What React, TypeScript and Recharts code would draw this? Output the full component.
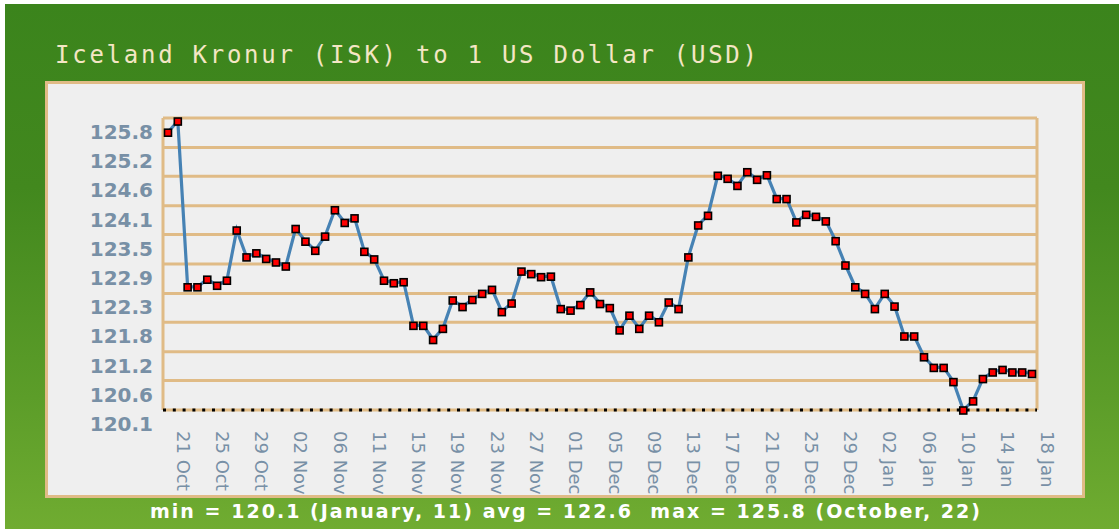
import React from 'react';
import {
  LineChart,
  Line,
  XAxis,
  YAxis,
  CartesianGrid,
  ReferenceLine,
} from 'recharts';

// ISK per 1 USD, one point per day (21 Oct .. 18 Jan, one November day missing)
const dates = [
  '21 Oct', '22 Oct', '23 Oct', '24 Oct', '25 Oct', '26 Oct', '27 Oct', '28 Oct', '29 Oct', '30 Oct', '31 Oct',
  '01 Nov', '02 Nov', '03 Nov', '04 Nov', '05 Nov', '06 Nov', '07 Nov', '09 Nov', '10 Nov',
  '11 Nov', '12 Nov', '13 Nov', '14 Nov', '15 Nov', '16 Nov', '17 Nov', '18 Nov', '19 Nov', '20 Nov',
  '21 Nov', '22 Nov', '23 Nov', '24 Nov', '25 Nov', '26 Nov', '27 Nov', '28 Nov', '29 Nov', '30 Nov',
  '01 Dec', '02 Dec', '03 Dec', '04 Dec', '05 Dec', '06 Dec', '07 Dec', '08 Dec', '09 Dec', '10 Dec',
  '11 Dec', '12 Dec', '13 Dec', '14 Dec', '15 Dec', '16 Dec', '17 Dec', '18 Dec', '19 Dec', '20 Dec',
  '21 Dec', '22 Dec', '23 Dec', '24 Dec', '25 Dec', '26 Dec', '27 Dec', '28 Dec', '29 Dec', '30 Dec', '31 Dec',
  '01 Jan', '02 Jan', '03 Jan', '04 Jan', '05 Jan', '06 Jan', '07 Jan', '08 Jan', '09 Jan', '10 Jan',
  '11 Jan', '12 Jan', '13 Jan', '14 Jan', '15 Jan', '16 Jan', '17 Jan', '18 Jan',
];

const rates = [
  125.58, 125.8, 122.53, 122.53, 122.68, 122.56, 122.66, 123.65, 123.12, 123.2, 123.09,
  123.02, 122.94, 123.68, 123.43, 123.25, 123.53, 124.05, 123.8, 123.89,
  123.23, 123.08, 122.66, 122.61, 122.63, 121.77, 121.77, 121.49, 121.71, 122.27,
  122.14, 122.28, 122.4, 122.48, 122.04, 122.21, 122.84, 122.79, 122.73, 122.74,
  122.1, 122.07, 122.18, 122.43, 122.2, 122.12, 121.68, 121.97, 121.71, 121.97,
  121.84, 122.23, 122.1, 123.12, 123.75, 123.94, 124.73, 124.67, 124.53, 124.8,
  124.65, 124.74, 124.27, 124.27, 123.81, 123.96, 123.92, 123.83, 123.44, 122.96, 122.53,
  122.4, 122.1, 122.4, 122.15, 121.56, 121.56, 121.15, 120.94, 120.94, 120.66,
  120.1, 120.28, 120.72, 120.85, 120.9, 120.85, 120.85, 120.82,
];

const yTicks = [120.1, 120.68, 121.25, 121.83, 122.4, 122.98, 123.56, 124.13, 124.71, 125.28, 125.86];
const yTickLabels = ['120.1', '120.6', '121.2', '121.8', '122.3', '122.9', '123.5', '124.1', '124.6', '125.2', '125.8'];

const title = 'Iceland Kronur (ISK) to 1 US Dollar (USD)';
const summary = 'min = 120.1 (January, 11) avg = 122.6  max = 125.8 (October, 22)';

const data = dates.map((d, i) => ({ date: d, rate: rates[i] }));

const TAN = '#e0bb86';
const SLATE = '#7890a6';

const YTick = ({ x, y, payload }: any) => {
  const idx = yTicks.indexOf(payload.value);
  return (
    <text
      x={x - 2}
      y={y + 14}
      textAnchor="end"
      dominantBaseline="central"
      fill={SLATE}
      fontSize={20}
      fontWeight="bold"
      fontFamily="DejaVu Sans"
    >
      {idx >= 0 ? yTickLabels[idx] : ''}
    </text>
  );
};

const XTick = ({ x, y, payload }: any) => (
  <text
    transform={`translate(${x + 15},${y + 13}) rotate(90)`}
    textAnchor="start"
    dominantBaseline="central"
    fill={SLATE}
    fontSize={18}
    fontFamily="DejaVu Sans"
  >
    {payload.value}
  </text>
);

const SquareDot = ({ cx, cy, index }: any) => (
  <rect
    key={index}
    x={cx - 3.5}
    y={cy - 3}
    width={7}
    height={7}
    fill="#ff0000"
    stroke="#000"
    strokeWidth={1.6}
  />
);

// left and right frame lines at the edges of the plot area
const frameEdges = ({ offset }: any) => [offset.left, offset.left + offset.width];

export default function App() {
  return (
    <div style={{ position: 'absolute', left: 0, top: 0, width: 1119, height: 529, background: '#fff' }}>
      <div
        style={{
          position: 'absolute',
          left: 5,
          top: 4,
          width: 1114,
          height: 525,
          background: 'linear-gradient(to bottom, #3b841c 0%, #42881e 35%, #5c9d29 75%, #70ac31 100%)',
        }}
      />
      <div
        style={{
          position: 'absolute',
          left: 45,
          top: 81,
          width: 1034,
          height: 411,
          background: '#efefef',
          border: `3px solid ${TAN}`,
        }}
      />
      <div style={{ position: 'absolute', left: 0, top: 0 }}>
        <LineChart
          width={1119}
          height={529}
          data={data}
          margin={{ top: 118, right: 82, bottom: 59, left: 63 }}
        >
          <CartesianGrid
            yAxisId="l"
            stroke={TAN}
            strokeWidth={3}
            verticalCoordinatesGenerator={frameEdges}
          />
          <XAxis
            dataKey="date"
            height={60}
            interval={3}
            axisLine={false}
            tickLine={false}
            padding={{ left: 5, right: 5 }}
            tick={<XTick />}
          />
          <YAxis
            yAxisId="l"
            width={100}
            domain={[120.1, 125.86]}
            ticks={yTicks}
            axisLine={false}
            tickLine={false}
            tick={<YTick />}
          />
          <ReferenceLine yAxisId="l" y={120.1} stroke="#000" strokeWidth={3} strokeDasharray="3 6.8" />
          <Line
            yAxisId="l"
            dataKey="rate"
            type="linear"
            stroke="none"
            dot={<SquareDot />}
            activeDot={false}
            isAnimationActive={false}
          />
          <Line
            yAxisId="l"
            dataKey="rate"
            type="linear"
            stroke="#4682b4"
            strokeWidth={3.2}
            dot={false}
            activeDot={false}
            isAnimationActive={false}
          />
        </LineChart>
      </div>
      <svg width={1119} height={529} style={{ position: 'absolute', left: 0, top: 0, pointerEvents: 'none' }}>
        <text
          x={55}
          y={63}
          textLength={702}
          lengthAdjust="spacing"
          fill="#f4e6c4"
          fontSize={24}
          fontFamily="DejaVu Sans Mono"
          style={{ whiteSpace: 'pre' }}
        >
          {title}
        </text>
        <text
          x={150}
          y={518}
          textLength={830}
          lengthAdjust="spacing"
          fill="#ffffff"
          fontSize={19}
          fontWeight="bold"
          fontFamily="DejaVu Sans"
          style={{ whiteSpace: 'pre' }}
        >
          {summary}
        </text>
      </svg>
    </div>
  );
}
